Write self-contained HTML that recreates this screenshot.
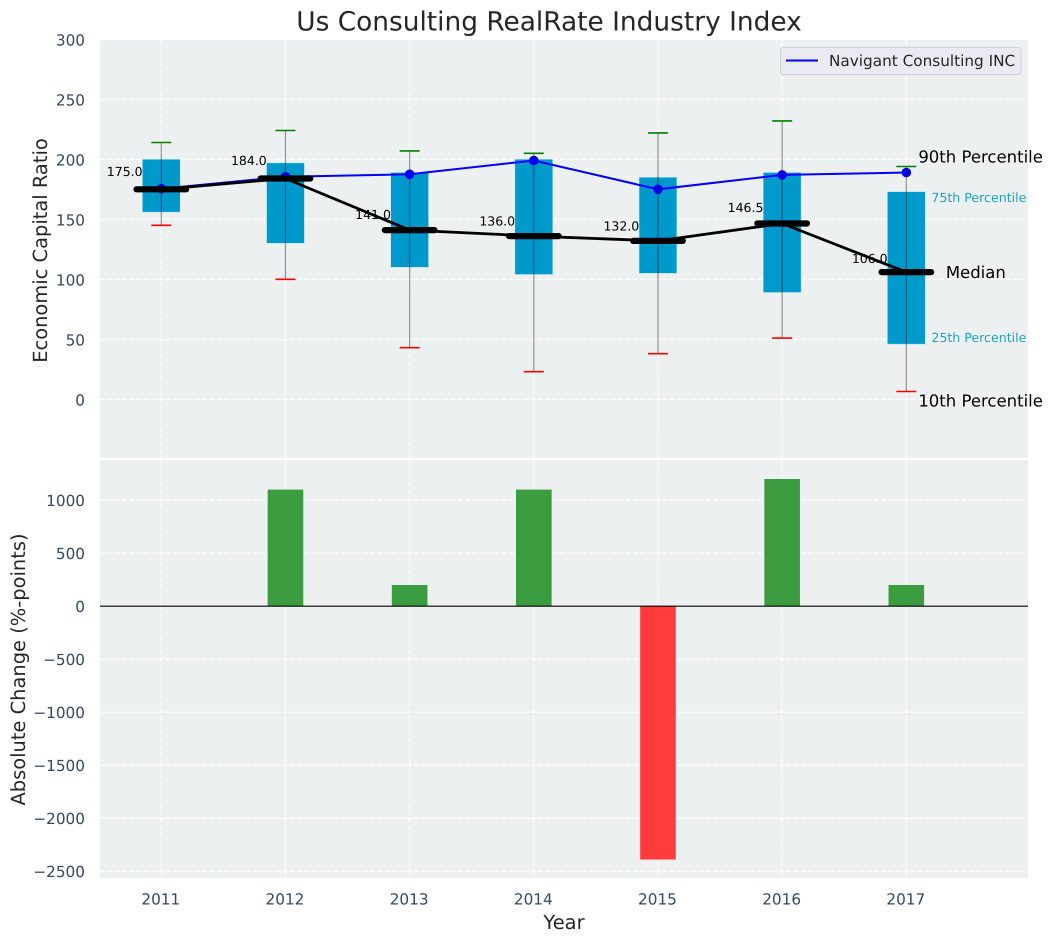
<!DOCTYPE html>
<html lang="en">
<head>
<meta charset="utf-8">
<title>Us Consulting RealRate Industry Index</title>
<style>
html,body{margin:0;padding:0;background:#fff;}
svg{display:block;font-family:"DejaVu Sans","Liberation Sans",sans-serif;text-rendering:geometricPrecision;}
</style>
</head>
<body>
<svg id="chart" xmlns="http://www.w3.org/2000/svg" width="1053" height="942" viewBox="0 0 1053 942"></svg>
<script>
const years = [2011, 2012, 2013, 2014, 2015, 2016, 2017];
const p90 = [214, 224, 207, 205, 222, 232, 194];
const p75 = [200, 197, 189, 200, 185, 189, 173];
const medians = [175, 184, 141, 136, 132, 146.5, 106];
const p25 = [156, 130, 110, 104, 105, 89, 46];
const p10 = [145, 100, 43, 23, 38, 51, 6.5];
const navigant = [175.5, 185.5, 187.5, 199, 175, 187, 189];
const changes = [0, 1100, 200, 1100, -2390, 1200, 200];
const topTicks = [0, 50, 100, 150, 200, 250, 300];
const bottomTicks = [-2500, -2000, -1500, -1000, -500, 0, 500, 1000];

const svg = document.getElementById('chart');
const NS = 'http://www.w3.org/2000/svg';
function add(tag, attrs, parent, text) {
  const el = document.createElementNS(NS, tag);
  for (const k in attrs) el.setAttribute(k, attrs[k]);
  if (text !== undefined) el.textContent = text;
  (parent || svg).appendChild(el);
  return el;
}
function named(el, name) {
  
  
  return el;
}
const x = yr => 161.3 + (yr - 2011) * 124.17;
const yTop = v => 399.3 - v * 1.2;
const yBot = v => 606.2 - v * 0.106;
const L = 100, R = 1028, W = R - L;
const GRID = {stroke: '#ffffff', 'stroke-width': 1.1, 'stroke-dasharray': '5 2.3'};
const TICK = {fill: '#34495e', 'font-size': 15.28};

/* panels */
named(add('rect', {x: L, y: 40, width: W, height: 418, fill: '#ecf0f1'}), 'top-panel');
named(add('rect', {x: L, y: 460, width: W, height: 418, fill: '#ecf0f1'}), 'bottom-panel');

/* grids */
years.forEach(yr => {
  const a = add('line', Object.assign({x1: x(yr), x2: x(yr), y1: 40, y2: 458}, GRID));
  
  
  const b = add('line', Object.assign({x1: x(yr), x2: x(yr), y1: 460, y2: 878}, GRID));
  
  
});
topTicks.forEach(t => {
  const g = add('line', Object.assign({x1: L, x2: R, y1: yTop(t), y2: yTop(t)}, GRID));
  
  
  const l = add('text', Object.assign({x: 85, y: yTop(t) + 6, 'text-anchor': 'end'}, TICK), svg, String(t));
  
  
});
bottomTicks.forEach(t => {
  const g = add('line', Object.assign({x1: L, x2: R, y1: yBot(t), y2: yBot(t)}, GRID));
  
  
  const l = add('text', Object.assign({x: 85, y: yBot(t) + 5.6, 'text-anchor': 'end'}, TICK), svg, String(t).replace('-', '\u2212'));
  
  
});
years.forEach(yr => {
  const l = add('text', Object.assign({x: x(yr) - 0.5, y: 904.5, 'text-anchor': 'middle'}, TICK), svg, String(yr));
  
  
});

/* boxes */
years.forEach((yr, i) => {
  const b = add('rect', {x: x(yr) - 18.9, width: 37.8, y: yTop(p75[i]), height: yTop(p25[i]) - yTop(p75[i]), fill: '#0099cc', stroke: '#bfe3ee', 'stroke-width': 0.5});
  
  
});

/* navigant series */
const navPts = years.map((yr, i) => x(yr) + ',' + yTop(navigant[i])).join(' ');
named(add('polyline', {points: navPts, fill: 'none', stroke: '#0000ff', 'stroke-width': 2}), 'navigant-line');
years.forEach((yr, i) => {
  const p = add('circle', {cx: x(yr), cy: yTop(navigant[i]), r: 4.8, fill: '#0000ff'});
  
  
});

/* median connector + median bars */
const medPts = years.map((yr, i) => x(yr) + ',' + yTop(medians[i])).join(' ');
named(add('polyline', {points: medPts, fill: 'none', stroke: '#000000', 'stroke-width': 2.8}), 'median-line');
years.forEach((yr, i) => {
  const m = add('line', {x1: x(yr) - 24.8, x2: x(yr) + 24.8, y1: yTop(medians[i]), y2: yTop(medians[i]), stroke: '#000000', 'stroke-width': 6.2, 'stroke-linecap': 'round'});
  
  
});

/* whiskers */
years.forEach((yr, i) => {
  const w = add('line', {x1: x(yr), x2: x(yr), y1: yTop(p90[i]), y2: yTop(p10[i]), stroke: '#000000', 'stroke-opacity': 0.42, 'stroke-width': 1.2});
  
  
  const hi = add('line', {x1: x(yr) - 10, x2: x(yr) + 10, y1: yTop(p90[i]), y2: yTop(p90[i]), stroke: '#008000', 'stroke-width': 1.6});
  
  
  const lo = add('line', {x1: x(yr) - 10, x2: x(yr) + 10, y1: yTop(p10[i]), y2: yTop(p10[i]), stroke: '#ff0000', 'stroke-width': 1.6});
  
  
  const t = add('text', {x: x(yr) - 18.7, y: yTop(medians[i]) - (2.4 + 0.0615 * medians[i]), 'text-anchor': 'end', 'font-size': 12.5, fill: '#000000'}, svg, medians[i].toFixed(1));
  
  
});

/* percentile key, anchored to the last year */
const last = years.length - 1;
const lx = x(years[last]);
named(add('text', {x: lx + 12, y: yTop(p90[last]) - 4, 'font-size': 16.5, fill: '#000'}, svg, '90th Percentile'), 'p90-annotation');
named(add('text', {x: lx + 25, y: yTop(p75[last]) + 10.2, 'font-size': 12.6, fill: '#1f9fcc'}, svg, '75th Percentile'), 'p75-annotation');
named(add('text', {x: lx + 39.5, y: yTop(medians[last]) + 6, 'font-size': 16.5, fill: '#000'}, svg, 'Median'), 'median-annotation');
named(add('text', {x: lx + 25, y: yTop(p25[last]) - 2, 'font-size': 12.6, fill: '#1f9fcc'}, svg, '25th Percentile'), 'p25-annotation');
named(add('text', {x: lx + 12, y: yTop(p10[last]) + 15, 'font-size': 16.5, fill: '#000'}, svg, '10th Percentile'), 'p10-annotation');

/* change bars */
years.forEach((yr, i) => {
  const v = changes[i];
  const b = add('rect', {x: x(yr) - 17.8, width: 35.6, y: Math.min(yBot(v), yBot(0)), height: Math.abs(yBot(v) - yBot(0)), fill: v >= 0 ? '#3a9c3e' : '#ff3b3b'});
  
  
});
named(add('line', {x1: L, x2: R, y1: yBot(0), y2: yBot(0), stroke: '#000', 'stroke-width': 1.2}), 'zero-line');

/* legend */
const legend = named(add('g', {}), 'legend');
named(add('rect', {x: 780.5, y: 47.5, width: 240.5, height: 27, rx: 3, fill: '#eaeaf2', stroke: '#d0d0d6', 'stroke-width': 1}, legend), 'legend-frame');
named(add('line', {x1: 786, x2: 818, y1: 60.5, y2: 60.5, stroke: '#0000ff', 'stroke-width': 2}, legend), 'legend-line');
named(add('text', {x: 829, y: 66, 'font-size': 15.28, fill: '#262626'}, legend, 'Navigant Consulting INC'), 'legend-label');

/* titles */
named(add('text', {x: 549, y: 30.5, 'text-anchor': 'middle', 'font-size': 26.4, fill: '#262626'}, svg, 'Us Consulting RealRate Industry Index'), 'chart-title');
named(add('text', {x: 564, y: 929, 'text-anchor': 'middle', 'font-size': 19.44, fill: '#262626'}, svg, 'Year'), 'x-axis-title');
named(add('text', {transform: 'translate(47,250.5) rotate(-90)', 'text-anchor': 'middle', 'font-size': 19.44, fill: '#262626'}, svg, 'Economic Capital Ratio'), 'top-y-axis-title');
named(add('text', {transform: 'translate(25,669.5) rotate(-90)', 'text-anchor': 'middle', 'font-size': 19.44, fill: '#262626'}, svg, 'Absolute Change (%-points)'), 'bottom-y-axis-title');
</script>
</body>
</html>
